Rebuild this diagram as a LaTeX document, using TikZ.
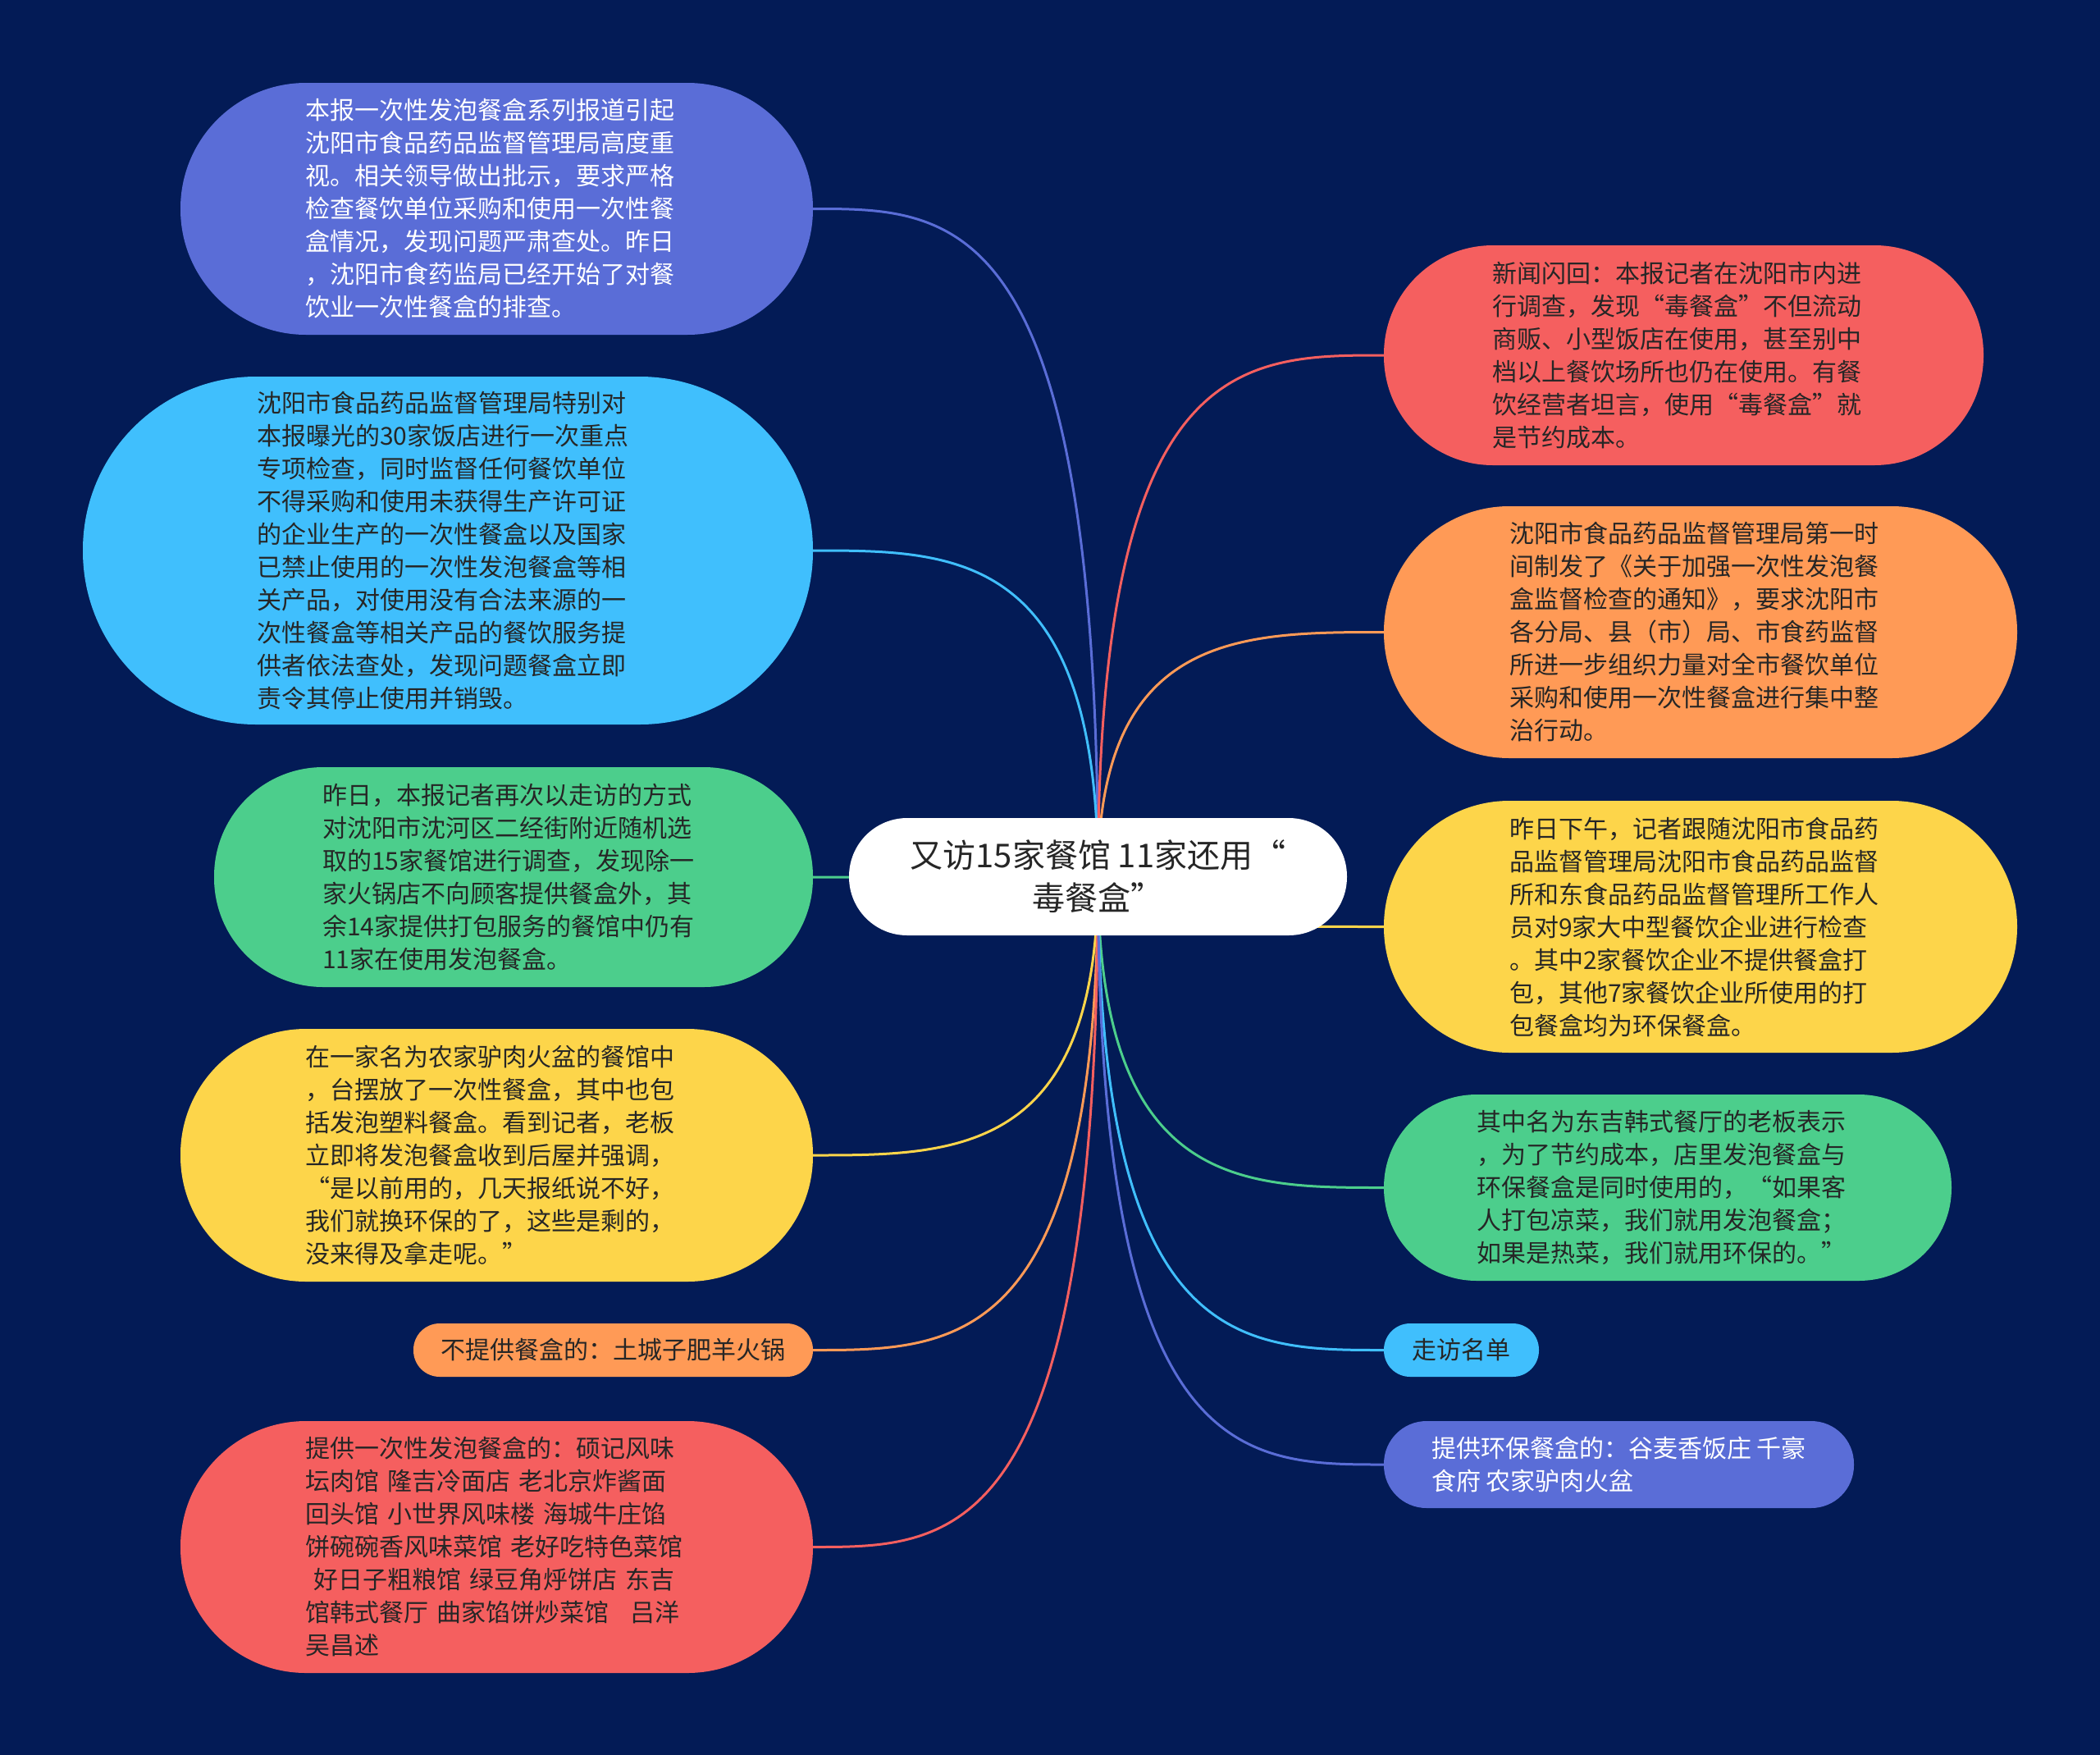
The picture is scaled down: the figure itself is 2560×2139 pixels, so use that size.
\documentclass[tikz,border=0pt]{standalone}
\usepackage{fontspec}
\setmainfont{Noto Sans CJK SC}
\usetikzlibrary{calc,backgrounds}
\definecolor{bgnavy}{HTML}{031B56}
\definecolor{cblue}{HTML}{5A6DD7}
\definecolor{clight}{HTML}{40BFFD}
\definecolor{cgreen}{HTML}{4CCE8C}
\definecolor{cyellow}{HTML}{FDD54A}
\definecolor{corange}{HTML}{FF9A56}
\definecolor{cred}{HTML}{F55F5F}
\definecolor{darktext}{HTML}{262626}
\begin{document}
\begin{tikzpicture}[x=1pt,y=-1pt,
  pill/.style n args={3}{minimum width=#1, minimum height=#2, rounded corners=#3,
    inner sep=0pt, align=left, text=darktext, font=\fontsize{30}{40}\selectfont},
  wide/.style={text width=466pt},
  link/.style={line width=3pt}]
\useasboundingbox (0,0) rectangle (2560,2139);

% central topic
\node[pill={607pt}{143pt}{71pt}, fill=white, align=center, text=darktext,
  font=\fontsize{40}{52}\selectfont] (c) at (1338.5,1068.5)
  {又访15家餐馆 11家还用“\\毒餐盒”};

% left side
\node[pill={771pt}{307pt}{153pt}, wide, fill=cblue, text=white] (n1) at (605.5,254.5)
{本报一次性发泡餐盒系列报道引起\\
沈阳市食品药品监督管理局高度重\\
视。相关领导做出批示，要求严格\\
检查餐饮单位采购和使用一次性餐\\
盒情况，发现问题严肃查处。昨日\\
，沈阳市食药监局已经开始了对餐\\
饮业一次性餐盒的排查。};

\node[pill={890pt}{424pt}{211pt}, wide, fill=clight] (n2) at (546,671)
{沈阳市食品药品监督管理局特别对\\
本报曝光的30家饭店进行一次重点\\
专项检查，同时监督任何餐饮单位\\
不得采购和使用未获得生产许可证\\
的企业生产的一次性餐盒以及国家\\
已禁止使用的一次性发泡餐盒等相\\
关产品，对使用没有合法来源的一\\
次性餐盒等相关产品的餐饮服务提\\
供者依法查处，发现问题餐盒立即\\
责令其停止使用并销毁。};

\node[pill={730pt}{268pt}{133pt}, wide, fill=cgreen] (n3) at (626,1069)
{昨日，本报记者再次以走访的方式\\
对沈阳市沈河区二经街附近随机选\\
取的15家餐馆进行调查，发现除一\\
家火锅店不向顾客提供餐盒外，其\\
余14家提供打包服务的餐馆中仍有\\
11家在使用发泡餐盒。};

\node[pill={771pt}{308pt}{153pt}, wide, fill=cyellow] (n4) at (605.5,1408)
{在一家名为农家驴肉火盆的餐馆中\\
，台摆放了一次性餐盒，其中也包\\
括发泡塑料餐盒。看到记者，老板\\
立即将发泡餐盒收到后屋并强调，\\
“是以前用的，几天报纸说不好，\\
我们就换环保的了，这些是剩的，\\
没来得及拿走呢。”};

\node[pill={487pt}{65pt}{32pt}, fill=corange] (n5) at (747.5,1645.5)
{不提供餐盒的：土城子肥羊火锅};

\node[pill={771pt}{307pt}{153pt}, wide, fill=cred] (n6) at (605.5,1885.5)
{提供一次性发泡餐盒的：硕记风味\\
坛肉馆 隆吉冷面店 老北京炸酱面\\
回头馆 小世界风味楼 海城牛庄馅\\
饼碗碗香风味菜馆 老好吃特色菜馆\\
\hspace*{10pt}好日子粗粮馆 绿豆角烀饼店 东吉\\
馆韩式餐厅 曲家馅饼炒菜馆\hspace{26pt}吕洋\\
吴昌述};

% right side
\node[pill={731pt}{268pt}{133pt}, wide, fill=cred] (n7) at (2052.5,433)
{新闻闪回：本报记者在沈阳市内进\\
行调查，发现“毒餐盒”不但流动\\
商贩、小型饭店在使用，甚至别中\\
档以上餐饮场所也仍在使用。有餐\\
饮经营者坦言，使用“毒餐盒”就\\
是节约成本。};

\node[pill={772pt}{307pt}{153pt}, wide, fill=corange] (n8) at (2073,770.5)
{沈阳市食品药品监督管理局第一时\\
间制发了《关于加强一次性发泡餐\\
盒监督检查的通知》，要求沈阳市\\
各分局、县（市）局、市食药监督\\
所进一步组织力量对全市餐饮单位\\
采购和使用一次性餐盒进行集中整\\
治行动。};

\node[pill={772pt}{307pt}{153pt}, wide, fill=cyellow] (n9) at (2073,1129.5)
{昨日下午，记者跟随沈阳市食品药\\
品监督管理局沈阳市食品药品监督\\
所和东食品药品监督管理所工作人\\
员对9家大中型餐饮企业进行检查\\
。其中2家餐饮企业不提供餐盒打\\
包，其他7家餐饮企业所使用的打\\
包餐盒均为环保餐盒。};

\node[pill={692pt}{227pt}{113pt}, wide, fill=cgreen] (n10) at (2033,1447.5)
{其中名为东吉韩式餐厅的老板表示\\
，为了节约成本，店里发泡餐盒与\\
环保餐盒是同时使用的，“如果客\\
人打包凉菜，我们就用发泡餐盒；\\
如果是热菜，我们就用环保的。”};

\node[pill={189pt}{65pt}{32pt}, fill=clight] (n11) at (1781.5,1645.5)
{走访名单};

\node[pill={573pt}{106pt}{52pt}, fill=cblue, text=white] (n12) at (1973.5,1785)
{提供环保餐盒的：谷麦香饭庄 千豪\\
食府 农家驴肉火盆};

% background and connectors
\begin{scope}[on background layer]
\fill[bgnavy] (0,0) rectangle (2560,2139);
\foreach \n/\col/\a in {n1/cblue/east, n2/clight/east, n3/cgreen/east,
    n4/cyellow/east, n5/corange/east, n6/cred/east,
    n7/cred/west, n8/corange/west, n9/cyellow/west,
    n10/cgreen/west, n11/clight/west, n12/cblue/west}
  \draw[link, \col] (c.center) .. controls (c.center |- \n.\a)
    and ($(c.center |- \n.\a)!0.5!(\n.\a)$) .. (\n.\a);
\end{scope}
\end{tikzpicture}
\end{document}
